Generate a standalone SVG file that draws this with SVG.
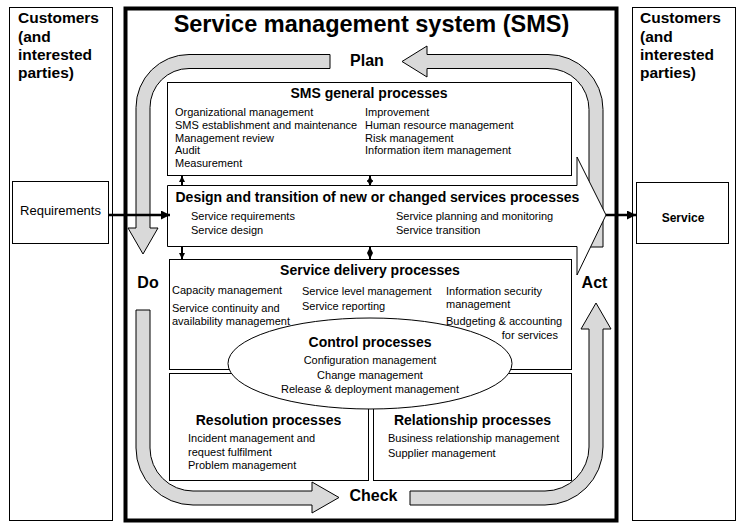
<svg xmlns="http://www.w3.org/2000/svg" width="746" height="527" viewBox="0 0 746 527">
<style>
text{font-family:"Liberation Sans",Arial,sans-serif;fill:#000}
.cust{font-size:15.5px;font-weight:bold}
.title{font-size:23.5px;font-weight:bold}
.h{font-size:14px;font-weight:bold}
.it{font-size:11px}
.pdca{font-size:16px;font-weight:bold}
.box{fill:#fff;stroke:#000;stroke-width:1}
.band{fill:#d9d9d9;stroke:#000;stroke-width:1}
.c{stroke:#000;fill:none}
.mid{text-anchor:middle}
</style>
<defs>
<marker id="sm" viewBox="0 0 10 10" refX="10" refY="5" markerUnits="userSpaceOnUse" markerWidth="6" markerHeight="7" orient="auto-start-reverse"><path d="M0,0 L10,5 L0,10 Z" fill="#000"/></marker>
<marker id="big" viewBox="0 0 10 10" refX="10" refY="5" markerUnits="userSpaceOnUse" markerWidth="14" markerHeight="9" orient="auto"><path d="M0,0 L10,5 L0,10 Z" fill="#000"/></marker>
</defs>
<rect width="746" height="527" fill="#fff"/>

<g id="customers-left">
<rect class="box" x="9.5" y="7.5" width="103" height="513"/>
<text class="cust" x="18" y="23">Customers</text>
<text class="cust" x="18" y="41.5">(and</text>
<text class="cust" x="18" y="60">interested</text>
<text class="cust" x="18" y="78">parties)</text>
</g>
<g id="customers-right">
<rect class="box" x="632.5" y="7.5" width="103" height="513"/>
<text class="cust" x="640" y="23">Customers</text>
<text class="cust" x="640" y="41.5">(and</text>
<text class="cust" x="640" y="60">interested</text>
<text class="cust" x="640" y="78">parties)</text>
</g>
<g id="requirements">
<rect class="box" x="12.5" y="181.5" width="96" height="62"/>
<text x="60.5" y="214.5" class="mid" font-size="13">Requirements</text>
</g>
<g id="service">
<rect class="box" x="636.5" y="182.5" width="92" height="61"/>
<text x="683" y="222" class="mid" font-size="12" font-weight="bold">Service</text>
</g>

<g id="sms">
<rect x="125.5" y="8.5" width="491" height="512" fill="#fff" stroke="#000" stroke-width="4"/>
<text class="title mid" x="371.5" y="32">Service management system (SMS)</text>
</g>

<g id="pdca">
<path id="band-plan-do" class="band" d="M330,54.5 H189 A53,53 0 0 0 136,107.5 V228 H128 L143,254 L158,228 H150 V107.5 A39,39 0 0 1 189,68.5 H330 Z"/>
<path id="band-act-plan" class="band" d="M402,61.5 L427,46 V54.5 H548 A55,55 0 0 1 603,109.5 V247 H589 V109.5 A41,41 0 0 0 548,68.5 H427 V77 Z"/>
<path id="band-do-check" class="band" d="M136,310 V448 A57,57 0 0 0 193,505 H312 V513 L339,497.5 L312,482 V491 H193 A43,43 0 0 1 150,448 V310 Z"/>
<path id="band-check-act" class="band" d="M410,491 H545 A44,44 0 0 0 589,447 V329 H581 L596,303 L611,329 H603 V447 A58,58 0 0 1 545,505 H410 Z"/>
<text class="pdca mid" x="367" y="66">Plan</text>
<text class="pdca mid" x="148" y="287.5">Do</text>
<text class="pdca mid" x="373.5" y="500.5">Check</text>
<text class="pdca mid" x="594.5" y="287.5">Act</text>
</g>

<g id="sms-general">
<rect class="box" x="167.5" y="82.5" width="404" height="93"/>
<text class="h mid" x="369" y="98">SMS general processes</text>
<text class="it" x="175" y="116">Organizational management</text>
<text class="it" x="175" y="128.5">SMS establishment and maintenance</text>
<text class="it" x="175" y="141.5">Management review</text>
<text class="it" x="175" y="154">Audit</text>
<text class="it" x="175" y="167">Measurement</text>
<text class="it" x="365" y="116">Improvement</text>
<text class="it" x="365" y="128.5">Human resource management</text>
<text class="it" x="365" y="141.5">Risk management</text>
<text class="it" x="365" y="154">Information item management</text>
</g>

<g id="design-transition">
<path class="box" d="M167.5,185.5 H577 V157 L606,215 L577,275 V246.5 H167.5 Z" stroke="#222"/>
<text class="h" x="175.5" y="202">Design and transition of new or changed services processes</text>
<text class="it" x="191" y="220">Service requirements</text>
<text class="it" x="191" y="234">Service design</text>
<text class="it" x="396" y="220">Service planning and monitoring</text>
<text class="it" x="396" y="234">Service transition</text>
</g>

<g id="service-delivery">
<rect class="box" x="169.5" y="259.5" width="402" height="110"/>
<text class="h mid" x="370" y="275">Service delivery processes</text>
<text class="it" x="172" y="294">Capacity management</text>
<text class="it" x="172" y="312">Service continuity and</text>
<text class="it" x="172" y="325">availability management</text>
<text class="it" x="302" y="295">Service level management</text>
<text class="it" x="302" y="310">Service reporting</text>
<text class="it" x="446" y="295">Information security</text>
<text class="it" x="446" y="308">management</text>
<text class="it" x="446" y="325">Budgeting &amp; accounting</text>
<text class="it" x="558" y="339" text-anchor="end">for services</text>
</g>

<g id="resolution">
<rect class="box" x="169.5" y="373.5" width="199" height="107"/>
<text class="h mid" x="268.5" y="425">Resolution processes</text>
<text class="it" x="188" y="442">Incident management and</text>
<text class="it" x="188" y="456">request fulfilment</text>
<text class="it" x="188" y="469">Problem management</text>
</g>

<g id="relationship">
<rect class="box" x="373.5" y="373.5" width="198" height="107"/>
<text class="h mid" x="472.5" y="425">Relationship processes</text>
<text class="it" x="388" y="442">Business relationship management</text>
<text class="it" x="388" y="457">Supplier management</text>
</g>

<g id="control">
<ellipse class="box" cx="370" cy="363.5" rx="142" ry="45.5"/>
<text class="h mid" x="370" y="347">Control processes</text>
<text class="it mid" x="370" y="364">Configuration management</text>
<text class="it mid" x="370" y="379">Change management</text>
<text class="it mid" x="370" y="393">Release &amp; deployment management</text>
</g>

<g id="connectors">
<line class="c" x1="182" y1="186" x2="182" y2="176" stroke-width="2" marker-end="url(#sm)"/>
<line class="c" x1="370" y1="186" x2="370" y2="176" stroke-width="2" marker-start="url(#sm)" marker-end="url(#sm)"/>
<line class="c" x1="182" y1="247" x2="182" y2="259" stroke-width="2" marker-end="url(#sm)"/>
<line class="c" x1="370" y1="247" x2="370" y2="259" stroke-width="2" marker-start="url(#sm)" marker-end="url(#sm)"/>
<line class="c" x1="109" y1="215" x2="170" y2="215" stroke-width="2.5" marker-end="url(#big)"/>
<line class="c" x1="606" y1="215" x2="636" y2="215" stroke-width="2.5" marker-end="url(#big)"/>
</g>
</svg>
